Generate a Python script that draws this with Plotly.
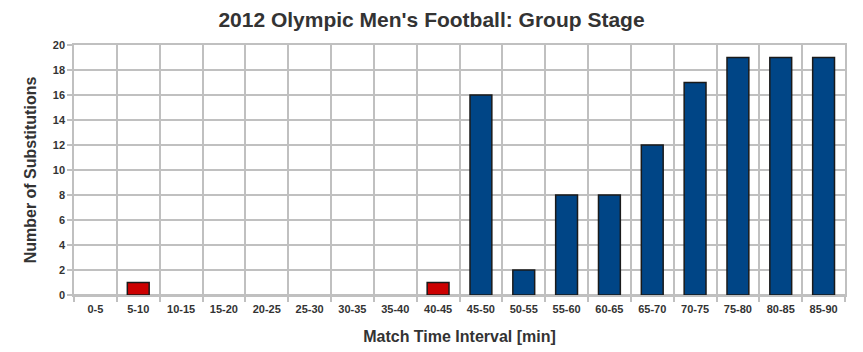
import plotly.graph_objects as go

categories = ["0-5", "5-10", "10-15", "15-20", "20-25", "25-30", "30-35", "35-40", "40-45",
              "45-50", "50-55", "55-60", "60-65", "65-70", "70-75", "75-80", "80-85", "85-90"]
values = [0, 1, 0, 0, 0, 0, 0, 0, 1, 16, 2, 8, 8, 12, 17, 19, 19, 19]
first_half = [False, True, False, False, False, False, False, False, True,
              False, False, False, False, False, False, False, False, False]

RED = "#cc0000"
BLUE = "#004586"
colors = [RED if fh else BLUE for fh in first_half]
line_widths = [1.5 if v > 0 else 0 for v in values]
GRID = "#c0c0c0"
FONT = "Liberation Sans, Arial, sans-serif"

fig = go.Figure(go.Bar(
    x=categories, y=values,
    marker=dict(color=colors, line=dict(color="#1a1a1a", width=line_widths)),
    showlegend=False,
))

fig.update_layout(
    width=863, height=352,
    margin=dict(l=74, r=18, t=45, b=57),
    paper_bgcolor="white", plot_bgcolor="white",
    bargap=0.49,
    title=dict(text="<b>2012 Olympic Men's Football: Group Stage</b>",
               x=0.5, xanchor="center", y=0.943, yanchor="middle",
               font=dict(family=FONT, size=21, color="#333333")),
    font=dict(family=FONT, color="#333333"),
)
fig.update_xaxes(
    type="category", tickson="boundaries", ticks="outside", ticklen=5,
    tickcolor=GRID, tickwidth=1.5, ticklabelstandoff=3, automargin=False,
    showgrid=True, gridcolor=GRID, gridwidth=1.5,
    tickfont=dict(family=FONT, size=11, color="#333333", weight="bold"),
    title=dict(text="<b>Match Time Interval [min]</b>", standoff=17,
               font=dict(family=FONT, size=16, color="#333333")),
    showline=True, linecolor=GRID, linewidth=1.5, mirror=True,
)
fig.update_yaxes(
    range=[0, 20], dtick=2, ticks="outside", ticklen=5, automargin=False,
    tickcolor=GRID, tickwidth=1.5,
    showgrid=True, gridcolor=GRID, gridwidth=1.5,
    zeroline=True, zerolinecolor=GRID, zerolinewidth=1.5,
    tickfont=dict(family=FONT, size=11, color="#333333", weight="bold"),
    title=dict(text="<b>Number of Substitutions</b>", standoff=12,
               font=dict(family=FONT, size=16, color="#333333")),
    showline=True, linecolor=GRID, linewidth=1.5, mirror=True,
)

fig.write_html("out.html")
